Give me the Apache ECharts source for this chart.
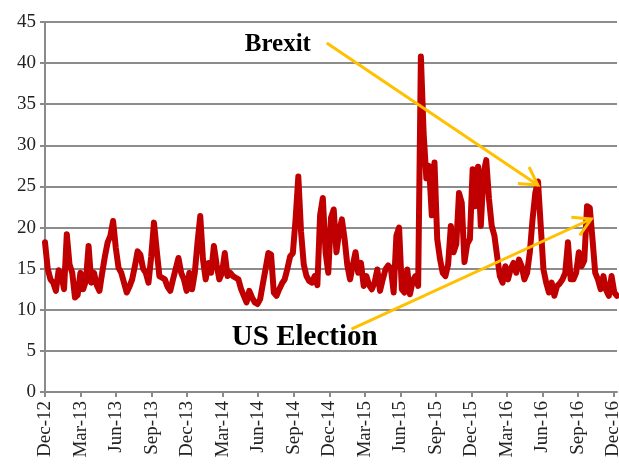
<!DOCTYPE html>
<html>
<head>
<meta charset="utf-8">
<title>VIX 2012-2016</title>
<script src="https://cdn.jsdelivr.net/npm/echarts@6/dist/echarts.min.js"></script>
<style>
    html, body { margin: 0; padding: 0; background: #fff; }
    #chart { width: 619px; height: 468px; }
</style>
</head>
<body>
<div id="chart"></div>
<script>
// weekly readings, first value = week of Dec-12
const vix = [
    18.2, 15, 13.7, 13.3, 12.3, 14.8, 14.2, 12.5, 19.2, 15.5,
    14.5, 11.5, 11.8, 14.5, 12.5, 13.5, 17.75, 13.3, 14.5, 13,
    12.3, 14.5, 16.5, 18.2, 19, 20.8, 17.5, 15.1, 14.5, 13.3,
    12.1, 12.8, 13.7, 15.3, 17.1, 16.7, 15, 14.5, 13.3, 16.5,
    20.6, 17.3, 14.1, 13.9, 13.7, 12.8, 12.3, 13.7, 15, 16.3,
    14.5, 13.7, 12.3, 14.5, 12.5, 14.5, 18.2, 21.4, 16.1, 13.7,
    15.7, 14.5, 17.75, 15.5, 13.7, 14.5, 16.9, 14.1, 14.5, 14.1,
    13.9, 13.7, 12.5, 11.7, 10.9, 12.3, 11.5, 10.9, 10.7, 11.3,
    13.2, 15, 16.9, 16.7, 12.1, 11.7, 12.5, 13.2, 13.7, 15,
    16.5, 16.9, 21, 26.2, 19.5, 15.5, 14.1, 13.5, 13.3, 14.1,
    13, 21.5, 23.6, 17, 14.5, 21.2, 22.2, 17, 19.5, 21,
    18.6, 15.4, 13.7, 15.4, 17, 14.5, 15.7, 12.9, 14.1, 13,
    12.5, 13.3, 14.9, 12.3, 13.7, 14.9, 15.4, 15, 12.1, 19,
    20, 12.5, 12.1, 14.9, 11.9, 13.5, 14.1, 12.9, 40.8, 31.5,
    26, 27.5, 21.5, 27.9, 18.6, 16.2, 14.5, 14.1, 15.5, 20.2,
    17, 18, 24.2, 23, 15.8, 18, 18.6, 27.1, 22.6, 27.4,
    20.2, 26.6, 28.2, 23.5, 20.2, 19, 16.5, 14.1, 13.3, 15.3,
    13.7, 15, 15.7, 14.5, 16.1, 15.3, 13.7, 14.5, 17, 21,
    24.2, 25.6, 20.2, 14.9, 13.3, 12.1, 13.3, 11.7, 12.9, 13.2,
    13.7, 14.5, 18.2, 13.7, 13.7, 14.5, 17, 15.3, 16, 22.6,
    22.4, 18.6, 14.5, 13.7, 12.5, 14.1, 12.4, 11.7, 14.1, 12.1, 11.7
];

// x axis labels, one every 3 months
const tickLabels = [
    'Dec-12', 'Mar-13', 'Jun-13', 'Sep-13', 'Dec-13', 'Mar-14', 'Jun-14', 'Sep-14',
    'Dec-14', 'Mar-15', 'Jun-15', 'Sep-15', 'Dec-15', 'Mar-16', 'Jun-16', 'Sep-16', 'Dec-16'
];

// annotation text and arrows, in [months since Dec-12, value]
const notes = [
    { text: 'Brexit', at: [19.66, 42.3], size: 25, from: [23.79, 42.45], to: [41.61, 25.18] },
    { text: 'US Election', at: [21.93, 6.57], size: 29, from: [25.87, 7.66], to: [46.12, 21.04] }
];

const weekInMonths = 12 / 52.18;
const labelFont = '"Liberation Serif", "DejaVu Serif", serif';

let chart = echarts.init(document.getElementById('chart'), null, { renderer: 'canvas' });

let seriesData = vix.map((v, i) => [i * weekInMonths, v]);
let tickValues = tickLabels.map((t, i) => i * 3);

let option = {
    animation: false,
    backgroundColor: '#fff',
    grid: { left: 45, right: 2, top: 22, bottom: 76, containLabel: false, outerBoundsMode: 'none' },
    xAxis: {
        type: 'value',
        min: 0,
        max: (vix.length - 1) * weekInMonths,
        interval: 3,
        splitLine: { show: false },
        axisLine: { lineStyle: { color: '#8a8a8a', width: 2 } },
        axisTick: {
            show: true,
            length: 5,
            customValues: tickValues,
            lineStyle: { color: '#8a8a8a', width: 2 }
        },
        axisLabel: {
            rotate: 90,
            margin: 9,
            customValues: tickValues,
            color: '#222',
            fontFamily: labelFont,
            fontSize: 19,
            formatter: v => (Math.abs(v / 3 - Math.round(v / 3)) < 1e-6 ? tickLabels[Math.round(v / 3)] || '' : '')
        }
    },
    yAxis: {
        type: 'value',
        min: 0,
        max: 45,
        interval: 5,
        axisLine: { show: true, lineStyle: { color: '#8a8a8a', width: 2 } },
        axisTick: { show: true, length: 5, lineStyle: { color: '#8a8a8a', width: 2 } },
        splitLine: { lineStyle: { color: '#8c8c8c', width: 2 } },
        axisLabel: {
            margin: 9,
            color: '#222',
            fontFamily: labelFont,
            fontSize: 19
        }
    },
    series: [{
        type: 'line',
        data: seriesData,
        showSymbol: false,
        symbol: 'none',
        lineStyle: { color: '#c00000', width: 6, join: 'round', cap: 'round' },
        z: 3
    }]
};

chart.setOption(option);

// arrows and labels, placed through the chart's own scales
function drawNotes() {
    let els = [];
    let toPx = p => chart.convertToPixel({ gridIndex: 0 }, p);
    notes.forEach(n => {
        let a = toPx(n.from);
        let b = toPx(n.to);
        let ang = Math.atan2(a[1] - b[1], a[0] - b[0]);
        let len = 20;
        let spread = Math.PI / 6;
        let h1 = [b[0] + len * Math.cos(ang + spread), b[1] + len * Math.sin(ang + spread)];
        let h2 = [b[0] + len * Math.cos(ang - spread), b[1] + len * Math.sin(ang - spread)];
        els.push({
            type: 'line',
            z: 10,
            shape: { x1: a[0], y1: a[1], x2: b[0], y2: b[1] },
            style: { stroke: '#ffc000', lineWidth: 3 }
        });
        els.push({
            type: 'polyline',
            z: 10,
            shape: { points: [h1, b, h2] },
            style: { stroke: '#ffc000', lineWidth: 3, fill: null, lineJoin: 'miter' }
        });
        let t = toPx(n.at);
        els.push({
            type: 'text',
            z: 11,
            x: t[0],
            y: t[1],
            style: {
                text: n.text,
                fill: '#000',
                font: 'bold ' + n.size + 'px ' + labelFont,
                align: 'center',
                verticalAlign: 'middle',
                textAlign: 'center',
                textVerticalAlign: 'middle'
            }
        });
    });
    chart.setOption({ graphic: { elements: els } });
}

drawNotes();
</script>
</body>
</html>
